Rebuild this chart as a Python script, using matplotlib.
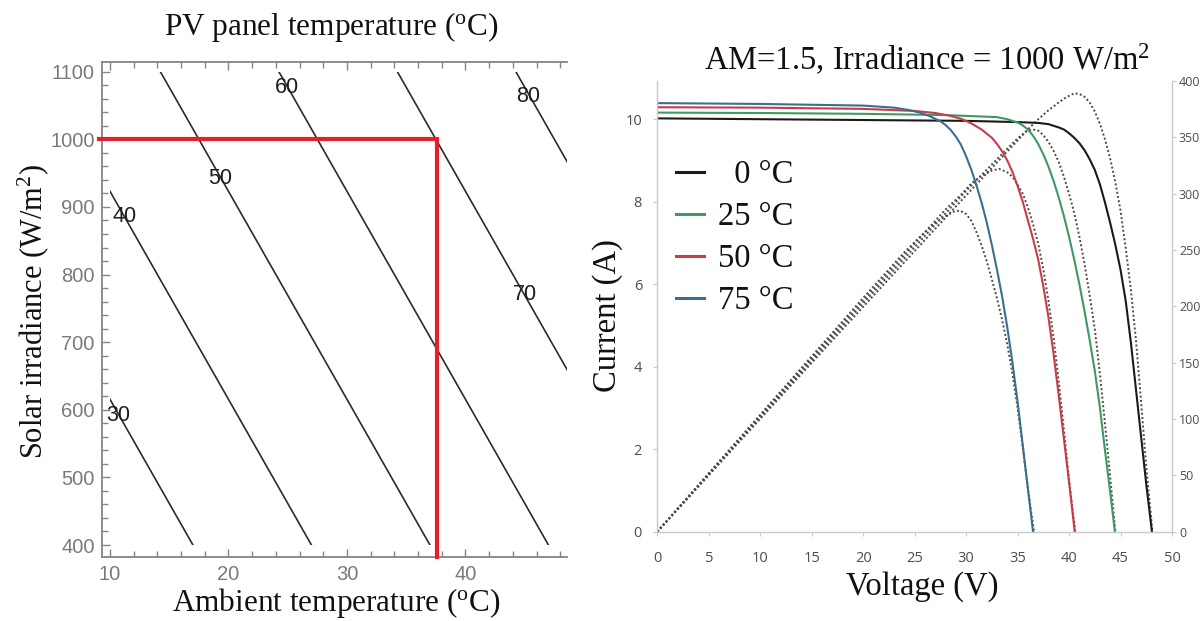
import matplotlib
matplotlib.use('Agg')
import matplotlib.pyplot as plt
from matplotlib.patches import Rectangle
from matplotlib.ticker import MultipleLocator

plt.rcParams['mathtext.fontset'] = 'custom'
plt.rcParams['mathtext.rm'] = 'Liberation Serif'
plt.rcParams['mathtext.it'] = 'Liberation Serif:italic'
plt.rcParams['mathtext.bf'] = 'Liberation Serif:bold'

SERIF = 'Liberation Serif'

# ---------------- Left panel data (PV panel temperature contours) ----------------
contour_levels = [30, 40, 50, 60, 70, 80]
ambient_at_g400 = [17.0, 27.0, 37.0, 47.0, 57.0, 67.0]
ambient_at_g1100 = [-5.75, 4.25, 14.25, 24.25, 34.25, 44.25]
irradiance_span = [400, 1100]
ambient_min = 10
label_ambient = [10.7, 11.2, 19.3, 24.9, 45.0, 45.3]
label_irradiance = [592, 886, 942, 1076, 770, 1063]
operating_ambient = 37.6
operating_irradiance = 1000

# ---------------- Right panel data (I-V and P-V curves) ----------------
temp_labels = ['  0 \u00b0C', '25 \u00b0C', '50 \u00b0C', '75 \u00b0C']

v_0C = [0, 10, 20, 30, 35, 37, 38, 39, 39.5, 40, 40.5, 41, 41.5, 42, 42.5, 43, 43.5, 44, 44.5,
        45, 45.5, 46, 46.5, 47, 47.5, 48.05]
i_0C = [10.02, 10.0, 9.98, 9.96, 9.93, 9.91, 9.88, 9.8, 9.75, 9.66, 9.55, 9.42, 9.25, 9.03, 8.77,
        8.42, 7.97, 7.48, 6.95, 6.35, 5.6, 4.6, 3.45, 2.3, 1.15, 0]

v_25C = [0, 10, 20, 28, 33, 34, 35, 35.5, 36, 36.5, 37, 37.5, 38, 38.5, 39, 39.5, 40, 40.5, 41,
         41.5, 42, 42.5, 43, 43.5, 44, 44.45]
i_25C = [10.16, 10.15, 10.13, 10.1, 10.05, 10.0, 9.92, 9.85, 9.75, 9.6, 9.4, 9.15, 8.85, 8.5, 8.1,
         7.65, 7.15, 6.6, 6.0, 5.35, 4.65, 3.9, 3.0, 1.95, 0.95, 0]

v_50C = [0, 10, 20, 25, 27, 28.5, 29.5, 30.5, 31.5, 32.5, 33, 33.5, 34, 34.5, 35, 35.5, 36, 36.5,
         37, 37.5, 38, 38.5, 39, 39.5, 40, 40.55]
i_50C = [10.29, 10.28, 10.25, 10.2, 10.15, 10.08, 10.01, 9.9, 9.75, 9.55, 9.4, 9.22, 9.0, 8.72,
         8.38, 8.0, 7.55, 7.1, 6.6, 5.95, 5.2, 4.3, 3.3, 2.25, 1.2, 0]

v_75C = [0, 10, 20, 23, 24.5, 25.5, 26.5, 27.5, 28, 28.5, 29, 29.5, 30, 30.5, 31, 31.5, 32, 32.5,
         33, 33.5, 34, 34.5, 35, 35.5, 36, 36.5]
i_75C = [10.39, 10.37, 10.33, 10.28, 10.22, 10.16, 10.07, 9.95, 9.86, 9.74, 9.58, 9.38, 9.1, 8.78,
         8.4, 7.98, 7.5, 6.95, 6.35, 5.7, 4.95, 4.1, 3.15, 2.1, 1.05, 0]

pv_v_0C = [0, 10, 20, 30, 36, 37, 38, 39, 39.8, 40.5, 41, 41.5, 42, 42.5, 43, 43.5, 44, 44.5, 45,
           45.5, 46, 46.5, 47, 47.5, 48.1]
pv_p_0C = [0, 100.2, 199.6, 298.5, 357, 366, 374, 381, 386, 389, 388.5, 386, 381, 373, 362, 348,
           331, 310, 285, 252, 215, 170, 115, 58, 0]

pv_v_25C = [0, 10, 20, 30, 34, 35, 35.8, 36.5, 37, 37.5, 38, 38.5, 39, 39.5, 40, 40.5, 41, 41.5,
            42, 42.5, 43, 43.5, 44, 44.5]
pv_p_25C = [0, 101.5, 202.6, 302.5, 340, 349, 355, 357, 356, 352, 346, 338, 328, 315, 300, 283, 262,
            238, 210, 180, 140, 95, 48, 0]

pv_v_50C = [0, 10, 20, 28, 29.5, 30.5, 31.5, 32.5, 33.2, 34, 34.5, 35, 35.5, 36, 36.5, 37, 37.5,
            38, 38.5, 39, 39.5, 40, 40.6]
pv_p_50C = [0, 102.8, 205, 286, 299, 309, 316, 320.5, 322, 319, 315, 308, 300, 288, 273, 256, 233,
            205, 172, 133, 90, 46, 0]

pv_v_75C = [0, 10, 20, 24, 26, 27, 28, 28.8, 29.4, 30, 30.5, 31, 31.5, 32, 32.5, 33, 33.5, 34,
            34.5, 35, 35.5, 36, 36.6]
pv_p_75C = [0, 103.9, 207.5, 248, 266, 274, 280, 284, 285, 282, 276, 266, 254, 240, 224, 207, 188,
            166, 140, 110, 75, 38, 0]

iv_colors = ['#1a1a1a', '#3d9a63', '#c83c4a', '#3b6e8f']

# ---------------- Figure ----------------
W, H = 1203, 621
fig = plt.figure(figsize=(W / 100, H / 100), dpi=100)


def box(x0, y0, x1, y1):
    return [x0 / W, 1 - y1 / H, (x1 - x0) / W, (y1 - y0) / H]


# ===== Left panel =====
axL = fig.add_axes(box(101.7, 61.7, 566.7, 556.7))
axL.set_xlim(9.3, 48.54)
axL.set_ylim(382.7, 1114.8)

clip = Rectangle((ambient_min, irradiance_span[0]), axL.get_xlim()[1] - ambient_min,
                 irradiance_span[1] - irradiance_span[0],
                 transform=axL.transData, facecolor='none', edgecolor='none')
for lev, a400, a1100 in zip(contour_levels, ambient_at_g400, ambient_at_g1100):
    ln, = axL.plot([a1100, a400], [irradiance_span[1], irradiance_span[0]],
                   color='#2b2b2b', lw=1.2)
    ln.set_clip_path(clip)

for lev, xa, yg in zip(contour_levels, label_ambient, label_irradiance):
    axL.text(xa, yg, str(lev), ha='center', va='center', fontsize=15.5,
             family='Liberation Sans', color='#1e1e1e')

axL.plot([axL.get_xlim()[0] - 0.2, operating_ambient, operating_ambient],
         [operating_irradiance, operating_irradiance, axL.get_ylim()[0]],
         color='#e3202b', lw=3.0, solid_joinstyle='miter', clip_on=False, zorder=5)

gray = '#858585'
for s in ['left', 'bottom', 'top']:
    axL.spines[s].set_color(gray)
    axL.spines[s].set_linewidth(1.3)
axL.spines['right'].set_visible(False)
axL.xaxis.set_major_locator(MultipleLocator(10))
axL.xaxis.set_minor_locator(MultipleLocator(2))
axL.yaxis.set_major_locator(MultipleLocator(100))
axL.yaxis.set_minor_locator(MultipleLocator(20))
axL.tick_params(which='both', direction='in', top=True, right=False, color=gray, width=1.0,
                labelcolor='#7a7a7a', labelsize=14.5)
axL.tick_params(which='major', length=6)
axL.tick_params(which='minor', length=4)
axL.tick_params(axis='y', pad=5)
axL.tick_params(axis='x', pad=6)
for lab in axL.get_xticklabels() + axL.get_yticklabels():
    lab.set_family('Liberation Sans')

fig.text(331 / W, 1 - 34.5 / H, r'PV panel temperature ($^{\mathrm{o}}$C)', ha='center',
         va='baseline', fontsize=22.5, family=SERIF, color='#111111')
fig.text(336 / W, 1 - 611.5 / H, r'Ambient temperature ($^{\mathrm{o}}$C)', ha='center',
         va='baseline', fontsize=22.5, family=SERIF, color='#111111')
fig.text(33 / W, 1 - 311 / H, r'Solar irradiance (W/m$^{2}$)', ha='center', va='center',
         rotation=90, fontsize=22, family=SERIF, color='#111111')

# ===== Right panel =====
axR = fig.add_axes(box(657.3, 81, 1172, 531.7))
axR.set_xlim(0, 50)
axR.set_ylim(0, (531.7 - 81) / 41.25)
axP = axR.twinx()
axP.set_ylim(0, 400)

pv_sets = [(pv_v_0C, pv_p_0C), (pv_v_25C, pv_p_25C), (pv_v_50C, pv_p_50C), (pv_v_75C, pv_p_75C)]
for pv, pp in pv_sets:
    axP.plot(pv, pp, color='#4a4a4a', lw=1.4, linestyle=(0, (1, 1.2)))

iv_sets = [(v_0C, i_0C), (v_25C, i_25C), (v_50C, i_50C), (v_75C, i_75C)]
handles = []
for (vv, ii), c, lab in zip(iv_sets, iv_colors, temp_labels):
    h, = axR.plot(vv, ii, color=c, lw=1.5, label=lab, solid_joinstyle='round')
    handles.append(h)
axR.set_zorder(axP.get_zorder() + 1)
axR.patch.set_visible(False)

light = '#c9c9c9'
for a in (axR, axP):
    for s in a.spines.values():
        s.set_color(light)
        s.set_linewidth(1.0)
    a.spines['top'].set_visible(False)
axR.spines['right'].set_visible(False)
axP.spines['left'].set_visible(False)
axP.spines['bottom'].set_visible(False)

axR.xaxis.set_major_locator(MultipleLocator(5))
axR.yaxis.set_major_locator(MultipleLocator(2))
axP.yaxis.set_major_locator(MultipleLocator(50))
for a in (axR, axP):
    a.tick_params(direction='out', length=3, width=0.8, color=light, labelcolor='#4d4d4d',
                  labelsize=10.5)
axR.tick_params(axis='x', pad=11)
axR.tick_params(axis='y', pad=8)
axP.tick_params(axis='y', pad=2, labelsize=9)
for lab in axR.get_xticklabels() + axR.get_yticklabels() + axP.get_yticklabels():
    lab.set_family('Open Sans')

leg = axR.legend(handles=handles, loc='upper left',
                 bbox_to_anchor=((676 - 657.3) / 514.7, (531.7 - 160) / 450.7),
                 frameon=False, prop={'family': SERIF, 'size': 23.5}, handlelength=0.85,
                 handletextpad=0.45, labelspacing=0.35, borderpad=0, borderaxespad=0)
for t in leg.get_texts():
    t.set_color('#111111')
for lh in leg.get_lines():
    lh.set_linewidth(2.2)

fig.text(927.5 / W, 1 - 70 / H, r'AM=1.5, Irradiance = 1000 W/m$^{2}$', ha='center', va='baseline',
         fontsize=23.5, family=SERIF, color='#111111')
fig.text(922 / W, 1 - 595 / H, 'Voltage (V)', ha='center', va='baseline', fontsize=23.5,
         family=SERIF, color='#111111')
fig.text(608 / W, 1 - 316 / H, 'Current (A)', ha='center', va='center', rotation=90,
         fontsize=23.5, family=SERIF, color='#111111')

fig.savefig('out.png', dpi=100)
